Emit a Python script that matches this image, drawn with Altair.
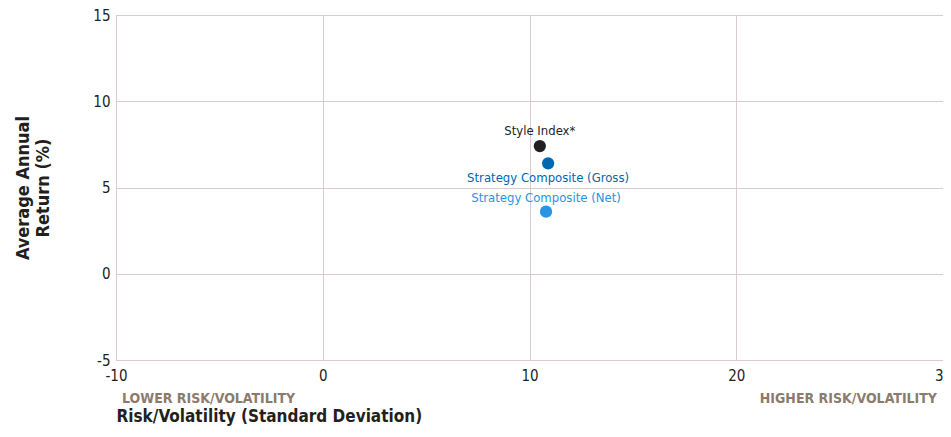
import altair as alt
import pandas as pd

names = ["Style Index*", "Strategy Composite (Gross)", "Strategy Composite (Net)"]
risk = [10.5, 10.9, 10.8]
ret = [7.4, 6.4, 3.6]
colors = ["#231f20", "#0067b1", "#2a93e4"]
label_dy = [-15, 15, -14]

df = pd.DataFrame({"name": names, "risk": risk, "ret": ret, "color": colors, "dy": label_dy})

FONT = "'DejaVu Sans Condensed', 'Liberation Sans Narrow', 'Roboto Condensed', 'Liberation Sans', sans-serif"
W, H = 827, 345

x = alt.X("risk:Q", scale=alt.Scale(domain=[-10, 30], nice=False),
          axis=alt.Axis(values=[-10, 0, 10, 20, 30], title="Risk/Volatility (Standard Deviation)",
                        titleAnchor="start", titleAlign="left", titlePadding=25,
                        titleFontSize=17, titleFont=FONT, titleFontWeight="bold", titleColor="#231f20",
                        labelFontSize=15, labelFont=FONT, labelColor="#231f20", labelPadding=8,
                        labelExpr="'' + datum.value",
                        ticks=False, domain=False, gridColor="#dcc9d1", labelFlush=False))
y = alt.Y("ret:Q", scale=alt.Scale(domain=[-5, 15], nice=False),
          axis=alt.Axis(values=[-5, 0, 5, 10, 15], title=["Average Annual", "Return (%)"],
                        titleFontSize=18, titleFont=FONT, titleFontWeight="bold", titleColor="#231f20",
                        titlePadding=40,
                        labelFontSize=15, labelFont=FONT, labelColor="#231f20", labelPadding=6,
                        labelExpr="'' + datum.value",
                        ticks=False, domain=False, gridColor="#dcc9d1"))

base = alt.Chart(df)
pts = base.mark_circle(size=150, opacity=1).encode(
    x=x, y=y, color=alt.Color("color:N", scale=None))

labels = []
for i in range(len(names)):
    labels.append(alt.Chart(df.iloc[[i]]).mark_text(font=FONT, fontSize=13, dy=label_dy[i]).encode(
        x="risk:Q", y="ret:Q", text="name:N", color=alt.Color("color:N", scale=None)))

side = pd.DataFrame({"t": ["LOWER RISK/VOLATILITY", "HIGHER RISK/VOLATILITY"]})
lower = alt.Chart(side.iloc[[0]]).mark_text(font=FONT, fontSize=14, fontWeight="bold", color="#8b7b6c",
                                             align="left", baseline="middle").encode(
    x=alt.value(6), y=alt.value(H + 39), text="t:N")
higher = alt.Chart(side.iloc[[1]]).mark_text(font=FONT, fontSize=14, fontWeight="bold", color="#8b7b6c",
                                              align="right", baseline="middle").encode(
    x=alt.value(W - 6), y=alt.value(H + 39), text="t:N")

chart = alt.layer(pts, *labels, lower, higher).properties(
    width=W, height=H, padding={"left": 108, "top": 7, "right": 0, "bottom": 69}
).configure_view(stroke=None).configure(autosize=alt.AutoSizeParams(type="none"))

chart.save("out.html", embed_options={"renderer": "svg", "actions": False})
